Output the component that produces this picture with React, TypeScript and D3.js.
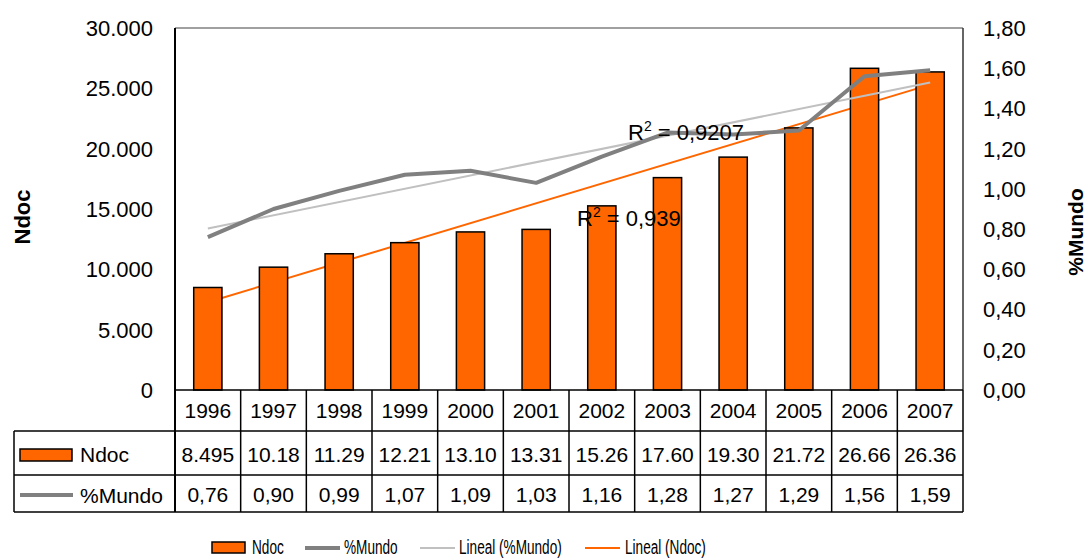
import { useEffect, useRef } from 'react';
import * as d3 from 'd3';

// chart data
const years = ['1996', '1997', '1998', '1999', '2000', '2001', '2002', '2003', '2004', '2005', '2006', '2007'];
const ndoc = [8495, 10180, 11290, 12210, 13100, 13310, 15260, 17600, 19300, 21720, 26660, 26360];
const pctMundo = [0.76, 0.90, 0.99, 1.07, 1.09, 1.03, 1.16, 1.28, 1.27, 1.29, 1.56, 1.59];
const leftTicks = [0, 5000, 10000, 15000, 20000, 25000, 30000];
const rightTicks = [0, 0.2, 0.4, 0.6, 0.8, 1.0, 1.2, 1.4, 1.6, 1.8];
const r2Mundo = '0,9207';
const r2Ndoc = '0,939';
const legendLabels = ['Ndoc', '%Mundo', 'Lineal (%Mundo)', 'Lineal (Ndoc)'];

const ORANGE = '#FF6600';
const GREY = '#808080';
const LIGHT = '#C0C0C0';
const FONT = "'Liberation Sans', Arial, sans-serif";

const es = d3.formatLocale({ decimal: ',', thousands: '.', grouping: [3], currency: ['', '€'] });
const fmtLeft = es.format(',.0f');
const fmtRight = es.format('.2f');

// simple least squares fit against the category index
const linReg = (vals: number[]) => {
  const n = vals.length;
  const mx = (n - 1) / 2;
  const my = d3.mean(vals) as number;
  let sxy = 0, sxx = 0;
  vals.forEach((v, i) => { sxy += (i - mx) * (v - my); sxx += (i - mx) * (i - mx); });
  const slope = sxy / sxx;
  const b = my - slope * mx;
  return (i: number) => b + slope * i;
};

const App = () => {
  const svgRef = useRef<SVGSVGElement>(null);

  useEffect(() => {
    const W = 1086, H = 558;
    const left = 175, right = 963, top = 28, bottom = 390;
    const row1 = 431, row2 = 475, row3 = 512, tableLeft = 14;

    const svg = d3.select(svgRef.current).attr('width', W).attr('height', H);
    svg.selectAll('*').remove();
    const g = svg.append('g').attr('font-family', FONT);

    const x = d3.scaleBand().domain(years).range([left, right]);
    const yL = d3.scaleLinear().domain([0, 30000]).range([bottom, top]);
    const yR = d3.scaleLinear().domain([0, 1.8]).range([bottom, top]);
    const cx = (i: number) => (x(years[i]) as number) + x.bandwidth() / 2;
    const barW = x.bandwidth() * 0.43;

    // plot frame
    g.append('line').attr('x1', left).attr('x2', right).attr('y1', top).attr('y2', top)
      .attr('stroke', GREY).attr('stroke-width', 1.5);
    g.append('line').attr('x1', right).attr('x2', right).attr('y1', top).attr('y2', bottom)
      .attr('stroke', '#333').attr('stroke-width', 1.5);

    // trend for Ndoc (behind bars)
    const fitN = linReg(ndoc);
    g.append('line')
      .attr('x1', cx(0)).attr('y1', yL(fitN(0)))
      .attr('x2', cx(years.length - 1)).attr('y2', yL(fitN(years.length - 1)))
      .attr('stroke', ORANGE).attr('stroke-width', 2);

    // bars
    g.selectAll('.bar')
      .data(ndoc)
      .enter()
      .append('rect')
      .attr('class', 'bar')
      .attr('x', (d, i) => cx(i) - barW / 2)
      .attr('y', d => yL(d))
      .attr('width', barW)
      .attr('height', d => bottom - yL(d))
      .attr('fill', ORANGE)
      .attr('stroke', '#000')
      .attr('stroke-width', 1.5);

    // trend for %Mundo
    const fitM = linReg(pctMundo);
    g.append('line')
      .attr('x1', cx(0)).attr('y1', yR(fitM(0)))
      .attr('x2', cx(years.length - 1)).attr('y2', yR(fitM(years.length - 1)))
      .attr('stroke', LIGHT).attr('stroke-width', 2);

    // %Mundo line
    const line = d3.line<number>()
      .x((d, i) => cx(i))
      .y(d => yR(d));
    g.append('path')
      .datum(pctMundo)
      .attr('fill', 'none')
      .attr('stroke', GREY)
      .attr('stroke-width', 4)
      .attr('stroke-linejoin', 'round')
      .attr('d', line);

    // R² labels
    const r2 = (tx: number, ty: number, val: string) => {
      const t = g.append('text').attr('x', tx).attr('y', ty).attr('font-size', 22).attr('fill', '#000');
      t.append('tspan').text('R');
      t.append('tspan').attr('font-size', 14).attr('dy', -9).text('2');
      t.append('tspan').attr('dy', 9).text(` = ${val}`);
    };
    r2(628, 140, r2Mundo);
    r2(577, 226, r2Ndoc);

    // left axis
    g.append('line').attr('x1', left).attr('x2', left).attr('y1', top).attr('y2', row3)
      .attr('stroke', '#000').attr('stroke-width', 2);
    g.selectAll('.tl')
      .data(leftTicks)
      .enter()
      .append('text')
      .attr('class', 'tl')
      .attr('x', 153)
      .attr('y', d => yL(d))
      .attr('dy', '0.36em')
      .attr('text-anchor', 'end')
      .attr('font-size', 22)
      .text(d => fmtLeft(d));

    // right axis labels
    g.selectAll('.tr')
      .data(rightTicks)
      .enter()
      .append('text')
      .attr('class', 'tr')
      .attr('x', 983)
      .attr('y', d => yR(d))
      .attr('dy', '0.36em')
      .attr('font-size', 22)
      .text(d => fmtRight(d));

    // axis titles
    g.append('text')
      .attr('transform', 'translate(30,217) rotate(-90)')
      .attr('text-anchor', 'middle')
      .attr('font-weight', 'bold')
      .attr('font-size', 22)
      .text('Ndoc');
    g.append('text')
      .attr('transform', 'translate(1083,232) rotate(-90)')
      .attr('text-anchor', 'middle')
      .attr('font-weight', 'bold')
      .attr('font-size', 21)
      .text('%Mundo');

    // data table grid
    const grid = g.append('g').attr('stroke', '#000').attr('stroke-width', 1.5);
    grid.append('line').attr('x1', left).attr('x2', right).attr('y1', bottom).attr('y2', bottom);
    [row1, row2, row3].forEach(yy => {
      grid.append('line').attr('x1', tableLeft).attr('x2', right).attr('y1', yy).attr('y2', yy);
    });
    grid.append('line').attr('x1', tableLeft).attr('x2', tableLeft).attr('y1', row1).attr('y2', row3);
    years.forEach(yr => {
      const xe = (x(yr) as number) + x.bandwidth();
      grid.append('line').attr('x1', xe).attr('x2', xe).attr('y1', bottom).attr('y2', row3);
    });

    const cellText = (vals: string[], yc: number) => {
      g.append('g')
        .selectAll('text')
        .data(vals)
        .enter()
        .append('text')
        .attr('x', (d, i) => cx(i))
        .attr('y', yc)
        .attr('dy', '0.36em')
        .attr('text-anchor', 'middle')
        .attr('font-size', 21)
        .text(d => d);
    };
    cellText(years, (bottom + row1) / 2);
    cellText(ndoc.map(d => fmtLeft(d).slice(0, 5)), (row1 + row2) / 2 + 1);
    cellText(pctMundo.map(d => fmtRight(d)), (row2 + row3) / 2 + 1);

    // table keys
    g.append('rect').attr('x', 20).attr('y', 449).attr('width', 52).attr('height', 12)
      .attr('fill', ORANGE).attr('stroke', '#000').attr('stroke-width', 1.5);
    g.append('text').attr('x', 80).attr('y', 454).attr('dy', '0.36em').attr('font-size', 21).text('Ndoc');
    g.append('line').attr('x1', 20).attr('x2', 73).attr('y1', 495).attr('y2', 495)
      .attr('stroke', GREY).attr('stroke-width', 4);
    g.append('text').attr('x', 80).attr('y', 495).attr('dy', '0.36em').attr('font-size', 21).text('%Mundo');

    // legend
    const lg = g.append('g');
    const ly = 548;
    lg.append('rect').attr('x', 212).attr('y', 542).attr('width', 33).attr('height', 11)
      .attr('fill', ORANGE).attr('stroke', '#000').attr('stroke-width', 1.5);
    const legendLines = [
      { x: 305, color: GREY, w: 4 },
      { x: 420, color: LIGHT, w: 2 },
      { x: 585, color: ORANGE, w: 2 },
    ];
    legendLines.forEach(l => {
      lg.append('line').attr('x1', l.x).attr('x2', l.x + 35).attr('y1', ly).attr('y2', ly)
        .attr('stroke', l.color).attr('stroke-width', l.w);
    });
    const textX = [252, 344, 459, 625];
    legendLabels.forEach((lab, i) => {
      lg.append('text')
        .attr('transform', `translate(${textX[i]},554) scale(0.68,1)`)
        .attr('font-size', 20)
        .text(lab);
    });

    return () => {
      d3.select(svgRef.current).selectAll('*').remove();
    };
  }, []);

  return (
    <div>
      <svg ref={svgRef} style={{ position: 'absolute', left: 0, top: 0, background: '#fff' }}></svg>
    </div>
  );
};

export default App;
